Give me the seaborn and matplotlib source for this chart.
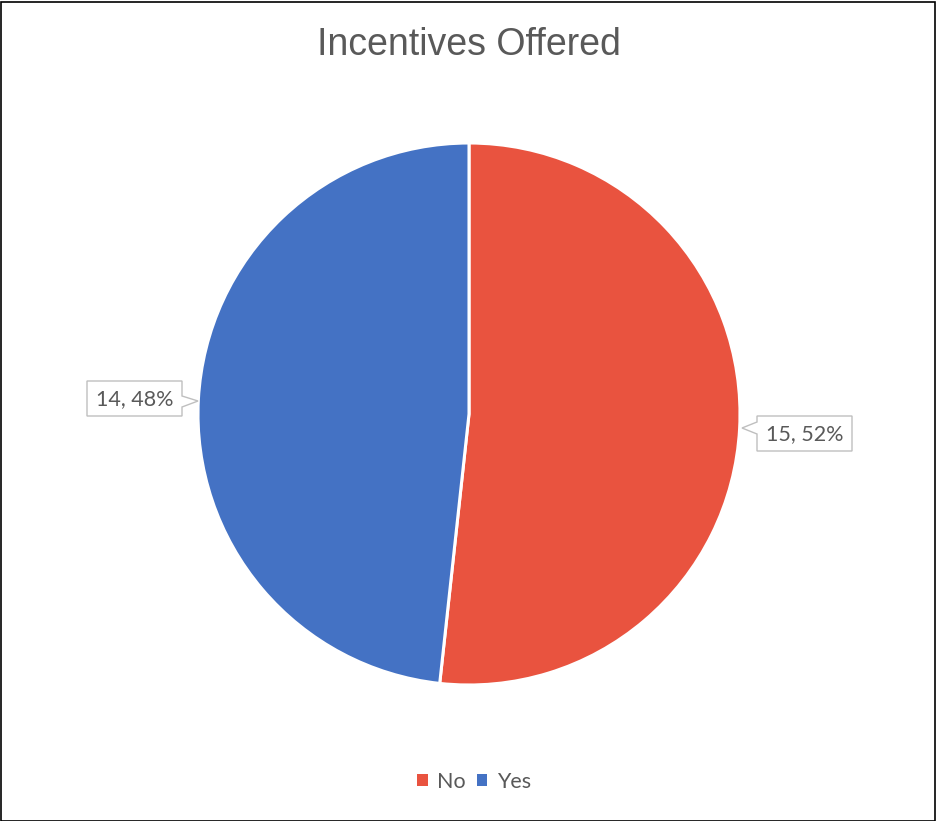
import matplotlib
matplotlib.use("Agg")
import matplotlib.pyplot as plt
import seaborn as sns
from matplotlib.patches import Rectangle, Polygon

sns.set_theme(style="white")

categories = ["No", "Yes"]
values = [15, 14]
colors = ["#E9533F", "#4472C4"]
title = "Incentives Offered"

W, H = 937, 821
fig = plt.figure(figsize=(W / 100, H / 100), dpi=100)
fig.patch.set_facecolor("white")

cx, cy, r = 469, 414, 271
ax = fig.add_axes([(cx - r) / W, (H - cy - r) / H, 2 * r / W, 2 * r / H])
wedges, _ = ax.pie(values, colors=colors, startangle=90, counterclock=False,
                   radius=1.0, wedgeprops=dict(edgecolor="white", linewidth=2.2))
ax.set_xlim(-1, 1)
ax.set_ylim(-1, 1)
ax.set_aspect("equal")
ax.axis("off")


def d(px, py):
    return ((px - cx) / r, (cy - py) / r)


total = sum(values)
txtc = "#595959"
label_font = ["Lato", "DejaVu Sans"]
# callout shapes in pixel layout (positions only)
callouts = {
    "No": ([(757, 416), (852, 416), (852, 451), (757, 451), (757, 434), (742, 428), (757, 422)],
           (805, 434)),
    "Yes": ([(87, 381), (182, 381), (182, 396), (198, 401), (182, 407), (182, 416), (87, 416)],
            (135, 399)),
}
for cat, v in zip(categories, values):
    pct = round(100 * v / total)
    poly, tc = callouts[cat]
    ax.add_patch(Polygon([d(*p) for p in poly], closed=True, fc="white", ec="#BFBFBF",
                         lw=1.0, zorder=6, clip_on=False))
    ax.text(*d(*tc), f"{v}, {pct}%", ha="center", va="center", fontsize=15.5,
            color=txtc, family=label_font, zorder=7)

fig.text(469 / W, 1 - 45 / H, title, ha="center", va="center", fontsize=27,
         color=txtc, family=["Liberation Sans", "DejaVu Sans"])

handles = [Rectangle((0, 0), 1, 1, fc=c, ec="none") for c in colors]
fig.legend(handles, categories, loc="center", bbox_to_anchor=(474 / W, 1 - 782 / H),
           ncol=2, frameon=False, handlelength=0.5, handleheight=0.5,
           handletextpad=0.45, columnspacing=0.5,
           prop={"family": label_font, "size": 15.5}, labelcolor=txtc)

fig.add_artist(Rectangle((0.5 / W, 0.5 / H), 1 - 2.5 / W, 1 - 2.5 / H,
                         transform=fig.transFigure, fill=False, ec="black", lw=1.2))

fig.savefig("out.png", dpi=100, facecolor="white")
